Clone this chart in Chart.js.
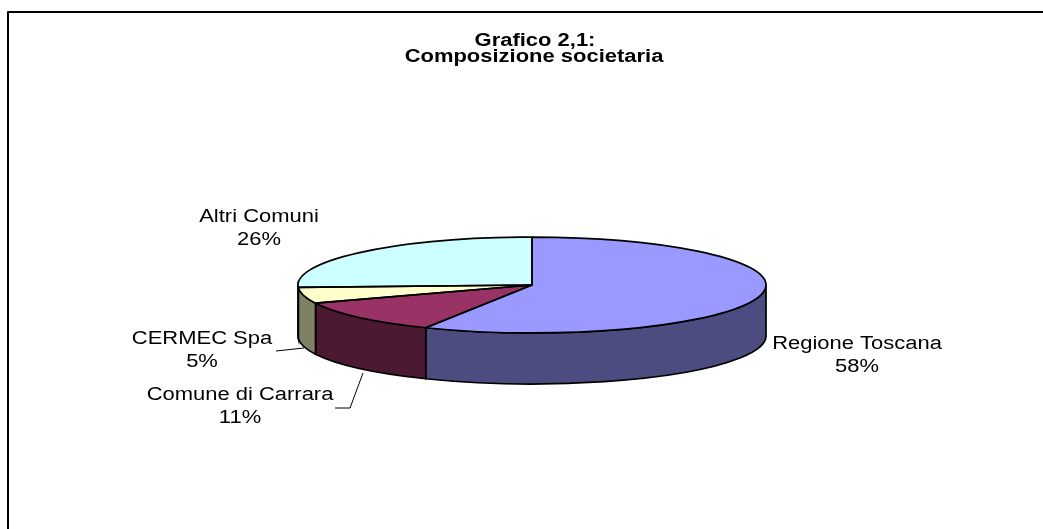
<!DOCTYPE html>
<html>
<head>
<meta charset="utf-8">
<script src="https://cdn.jsdelivr.net/npm/chart.js@4/dist/chart.umd.min.js"></script>
<style>
  html, body { margin: 0; padding: 0; background: #fff; }
  #wrap { width: 1043px; height: 529px; }
</style>
</head>
<body>
<div id="wrap"><canvas id="pieChart"></canvas></div>
<script>
const titleLines = ['Grafico 2,1:', 'Composizione societaria'];
const categories = ['Regione Toscana', 'Comune di Carrara', 'CERMEC Spa', 'Altri Comuni'];
const shares = [57.5, 11.3, 5.4, 25.8];
const topColors = ['#9999FF', '#993366', '#FFFFCC', '#CCFFFF'];
const sideColors = ['#4C4C80', '#4C1933', '#808066', '#668080'];

const TILT = 0.205;   // ry / rx of the flattened disc
const DEPTH = 51;     // thickness of the disc in px
const STRETCH = 1.22; // text in the source is drawn wider than normal

const ctx = document.getElementById('pieChart');

// where each label sits (center x, first baseline) and its leader line
const labelSpots = [
  { x: 857, y: 349 },
  { x: 240, y: 400, leader: [[335, 408], [350, 408], [363, 373]] },
  { x: 202, y: 344, leader: [[276, 351], [304, 348]] },
  { x: 259, y: 222 }
];

function wideText(c, text, x, y) {
  c.save();
  c.translate(x, y);
  c.scale(STRETCH, 1);
  c.fillText(text, 0, 0);
  c.restore();
}

const pie3d = {
  id: 'pie3d',
  beforeDatasetsDraw(chart) {
    const c = chart.ctx;
    const arcs = chart.getDatasetMeta(0).data;
    if (!arcs.length) return;
    const cx = arcs[0].x, cy = arcs[0].y;
    const rx = arcs[0].outerRadius, ry = rx * TILT;

    // side walls, only the front half (0..PI) is visible
    c.save();
    c.lineWidth = 1.7;
    c.strokeStyle = '#000';
    arcs.forEach((a, i) => {
      const s = Math.max(a.startAngle, 0);
      const e = Math.min(a.endAngle, Math.PI);
      if (e <= s) return;
      c.beginPath();
      c.ellipse(cx, cy, rx, ry, 0, s, e);
      c.lineTo(cx + rx * Math.cos(e), cy + DEPTH + ry * Math.sin(e));
      c.ellipse(cx, cy + DEPTH, rx, ry, 0, e, s, true);
      c.closePath();
      c.fillStyle = sideColors[i];
      c.fill();
      c.stroke();
    });
    c.restore();

    // squash the library's round pie into an ellipse
    c.save();
    c.translate(cx, cy);
    c.scale(1, TILT);
    c.translate(-cx, -cy);
  },
  afterDatasetsDraw(chart) {
    const c = chart.ctx;
    c.restore();
    const arcs = chart.getDatasetMeta(0).data;
    if (!arcs.length) return;
    const cx = arcs[0].x, cy = arcs[0].y;
    const rx = arcs[0].outerRadius, ry = rx * TILT;

    c.save();
    c.lineWidth = 1.7;
    c.strokeStyle = '#000';
    c.lineJoin = 'round';
    arcs.forEach(a => {
      c.beginPath();
      c.moveTo(cx, cy);
      c.ellipse(cx, cy, rx, ry, 0, a.startAngle, a.endAngle);
      c.closePath();
      c.stroke();
    });

    // labels
    c.fillStyle = '#000';
    c.font = '18px "Liberation Sans", Arial, sans-serif';
    c.textAlign = 'center';
    c.textBaseline = 'alphabetic';
    arcs.forEach((a, i) => {
      const spot = labelSpots[i];
      wideText(c, categories[i], spot.x, spot.y);
      wideText(c, Math.round(shares[i]) + '%', spot.x, spot.y + 23);
      if (spot.leader) {
        c.lineWidth = 1;
        c.beginPath();
        spot.leader.forEach((p, k) => k ? c.lineTo(p[0], p[1]) : c.moveTo(p[0], p[1]));
        c.stroke();
      }
    });

    // title
    c.font = 'bold 18px "Liberation Sans", Arial, sans-serif';
    wideText(c, titleLines[0], 535, 46);
    wideText(c, titleLines[1], 534, 62);

    // frame
    c.lineWidth = 2;
    c.strokeRect(8, 12, 1100, 600);
    c.restore();
  }
};

new Chart(ctx, {
  type: 'pie',
  data: {
    labels: categories,
    datasets: [{
      data: shares,
      backgroundColor: topColors,
      borderWidth: 0
    }]
  },
  options: {
    responsive: true,
    maintainAspectRatio: false,
    animation: false,
    layout: { padding: { left: 298, right: 277, top: 51, bottom: 10 } },
    plugins: {
      legend: { display: false },
      tooltip: { enabled: false },
      title: { display: false }
    }
  },
  plugins: [
    {
      id: 'whiteBg',
      beforeDraw(chart) {
        const c = chart.ctx;
        c.save();
        c.fillStyle = '#fff';
        c.fillRect(0, 0, chart.width, chart.height);
        c.restore();
      }
    },
    pie3d
  ]
});
</script>
</body>
</html>
